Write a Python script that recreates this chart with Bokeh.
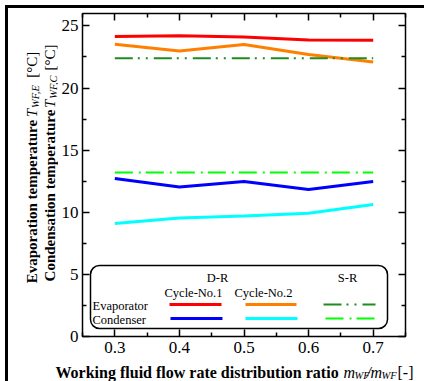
import math
from bokeh.plotting import figure
from bokeh.layouts import row, column
from bokeh.models import (Range1d, LinearAxis, FixedTicker, BoxAnnotation, Label,
                          CustomJSTickFormatter)
from bokeh.core.properties import value
from bokeh.embed import file_html
from bokeh.resources import INLINE

# ---- data ----
ratio = [0.3, 0.4, 0.5, 0.6, 0.7]
evap_cycle1 = [24.14, 24.20, 24.10, 23.87, 23.85]
evap_cycle2 = [23.52, 22.98, 23.50, 22.70, 22.10]
evap_sr = [22.40, 22.40, 22.40, 22.40, 22.40]
cond_cycle1 = [12.72, 12.04, 12.47, 11.83, 12.47]
cond_cycle2 = [9.09, 9.54, 9.70, 9.92, 10.62]
cond_sr = [13.20, 13.20, 13.20, 13.20, 13.20]

x_ticks = [0.3, 0.4, 0.5, 0.6, 0.7]
x_minor = [0.25, 0.35, 0.45, 0.55, 0.65, 0.75]
y_ticks = [0, 5, 10, 15, 20, 25]
y_minor = [2.5, 7.5, 12.5, 17.5, 22.5]

FONT = "Liberation Serif"
AXIS_FONT = "'Liberation Serif', serif"

# window geometry: margin 5 + border 3 -> content origin at (8, 8)
OFF = 8
YT_W = 50                   # width of y-title strip
XT_H = 21                   # height of x-title strip
MAIN_W = 424 - OFF - YT_W
MAIN_H = 381 - OFF - XT_H
MX0, MY0 = OFF + YT_W, OFF  # main figure origin in window px
FL, FT, FR, FB = 82, 13, 405, 336   # frame in window px
X0, X1, Y0, Y1 = 0.25, 0.75, 0.0, 26.0

def xd(px):
    return X0 + (px - FL) / (FR - FL) * (X1 - X0)

def yd(py):
    return Y0 + (FB - py) / (FB - FT) * (Y1 - Y0)

p = figure(width=MAIN_W, height=MAIN_H, output_backend="svg", toolbar_location=None,
           x_range=Range1d(X0, X1), y_range=Range1d(Y0, Y1),
           min_border_left=FL - MX0, min_border_top=FT - MY0,
           min_border_right=MX0 + MAIN_W - FR, min_border_bottom=MY0 + MAIN_H - FB)
p.grid.visible = False
p.outline_line_color = "black"
p.outline_line_width = 1.5
p.background_fill_color = "white"
p.border_fill_color = "white"

p.xaxis.ticker = FixedTicker(ticks=x_ticks, minor_ticks=x_minor)
p.yaxis.ticker = FixedTicker(ticks=y_ticks, minor_ticks=y_minor)
p.xaxis.formatter = CustomJSTickFormatter(code="return tick.toFixed(1);")
p.yaxis.formatter = CustomJSTickFormatter(code="return tick.toFixed(0);")

top = LinearAxis(ticker=FixedTicker(ticks=x_ticks, minor_ticks=x_minor))
right = LinearAxis(ticker=FixedTicker(ticks=y_ticks, minor_ticks=y_minor))
p.add_layout(top, "above")
p.add_layout(right, "right")

p.axis.axis_line_color = None
p.axis.major_tick_in = 7
p.axis.major_tick_out = 0
p.axis.minor_tick_in = 4
p.axis.minor_tick_out = 0
p.axis.major_tick_line_color = "black"
p.axis.minor_tick_line_color = "black"
p.axis.major_tick_line_width = 1.5
p.axis.minor_tick_line_width = 1.5
p.axis.major_label_text_font = AXIS_FONT
p.axis.major_label_text_font_style = "normal"
p.axis.major_label_text_color = "black"
p.axis.major_label_text_font_size = "17px"
for ax in (top, right):
    ax.major_label_text_font_size = "1px"
    ax.major_label_standoff = 0
    ax.formatter = CustomJSTickFormatter(code="return '';")
p.xaxis[0].major_label_standoff = 5
p.yaxis[0].major_label_standoff = 4

# ---- series ----
p.line(ratio, evap_cycle1, line_color="#ff0000", line_width=3)
p.line(ratio, evap_cycle2, line_color="#ff8000", line_width=3)
p.line(ratio, evap_sr, line_color="#1e8c1e", line_width=2, line_dash="18 5 2 6 2 6")
p.line(ratio, cond_cycle1, line_color="#0000ff", line_width=3)
p.line(ratio, cond_cycle2, line_color="#00ffff", line_width=3)
p.line(ratio, cond_sr, line_color="#00ff00", line_width=2, line_dash="18 6 2 5")

# ---- custom legend ----
box = BoxAnnotation(left=xd(90), right=xd(387), top=yd(265), bottom=yd(328),
                    fill_color="white", fill_alpha=1.0, line_color="black",
                    line_alpha=1.0, line_width=1.5, border_radius=9, level="underlay")
p.add_layout(box)

def lab(text, px, py, align="left"):
    p.add_layout(Label(x=xd(px), y=yd(py), text=text, text_font=FONT,
                       text_font_size="12.5px", text_align=align,
                       text_baseline="middle", text_color="black"))

lab("D-R", 217, 277, align="center")
lab("S-R", 347, 277, align="center")
lab("Cycle-No.1", 193, 292, align="center")
lab("Cycle-No.2", 263, 292, align="center")
lab("Evaporator", 92, 305)
lab("Condenser", 92, 319)

samples = [
    (169, 221, 304, "#ff0000", 3, "solid"),
    (245, 296, 304, "#ff8000", 3, "solid"),
    (323, 375, 304, "#1e8c1e", 2, "18 5 2 6 2 6"),
    (170, 222, 318, "#0000ff", 3, "solid"),
    (245, 297, 318, "#00ffff", 3, "solid"),
    (325, 374, 318, "#00ff00", 2, "18 6 2 5"),
]
for a, b, yy, c, w, d in samples:
    p.line([xd(a), xd(b)], [yd(yy), yd(yy)], line_color=c, line_width=w, line_dash=d)

# ---- title strips (window-pixel coordinates) ----
def strip(w, h, x0, y0):
    f = figure(width=w, height=h, output_backend="svg", toolbar_location=None,
               x_range=Range1d(x0, x0 + w), y_range=Range1d(-(y0 + h), -y0),
               min_border=0, x_axis_location=None, y_axis_location=None)
    f.grid.visible = False
    f.outline_line_color = None
    f.border_fill_color = "white"
    f.background_fill_color = "white"
    return f

def piece(f, text, px, py, size, style="normal", angle=0.0):
    f.text(x=[px], y=[-py], text=[text], text_font=value(FONT),
           text_font_size=size, text_font_style=style, text_color="black",
           text_align="left", text_baseline="alphabetic", angle=angle)

xf = strip(424 - OFF, XT_H, OFF, MY0 + MAIN_H)
xb = 372
piece(xf, "Working fluid flow rate distribution ratio", 55, xb, "16px", "bold")
piece(xf, "m", 343, xb, "16px", "italic")
piece(xf, "WF", 354, xb + 3, "10.5px", "italic")
piece(xf, "/", 366, xb, "16px", "italic")
piece(xf, "m", 370, xb, "16px", "italic")
piece(xf, "WF", 381, xb + 3, "10.5px", "italic")
piece(xf, "[-]", 397, xb, "16px")

yf = strip(YT_W, MAIN_H, OFF, OFF)
R = math.pi / 2
def ytitle(bold, sub, bx, start, t_at, sub_at, unit_at):
    piece(yf, bold, bx, start, "15px", "bold", R)
    piece(yf, "T", bx, t_at, "15px", "italic", R)
    piece(yf, sub, bx + 4, sub_at, "10.5px", "italic", R)
    piece(yf, "[°C]", bx, unit_at, "15px", "normal", R)

ytitle("Evaporation temperature", "WF,E", 31, 302, 121, 111, 78)
ytitle("Condensation temperature", "WF,C", 49, 300, 111, 101, 70)

layout = column(row(yf, p), xf)
layout.styles = {"margin-top": "5px", "margin-left": "5px",
                 "border-top": "3px solid black", "border-left": "3px solid black"}

open("out.html", "w").write(file_html(layout, INLINE))
